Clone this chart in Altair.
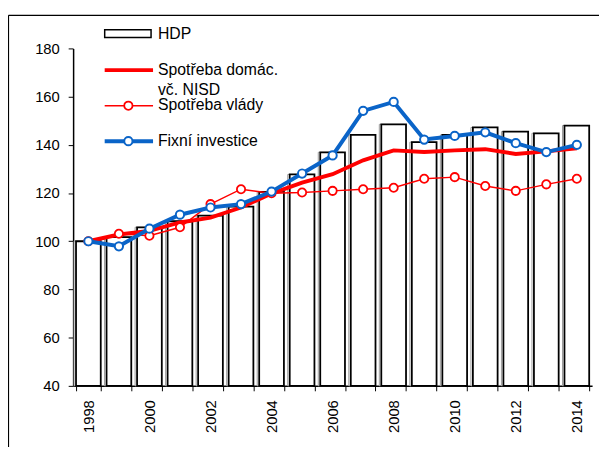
import altair as alt
import pandas as pd

years = list(range(1998, 2015))
hdp = [100, 101.7, 105.8, 108.3, 110.6, 114.4, 120.5, 127.7, 136.9, 144.1, 148.5, 141.1, 144.1, 147.2, 145.5, 144.8, 148.0]
domac = [100, 102.8, 104.3, 107.8, 109.8, 114.0, 119.8, 124.3, 127.8, 133.6, 137.7, 137.0, 137.7, 138.2, 136.2, 137.3, 138.6]
vlady = [100, 103.1, 102.3, 105.8, 115.4, 121.6, 119.9, 120.2, 120.9, 121.6, 122.2, 125.9, 126.6, 122.9, 120.9, 123.6, 125.9]
invest = [100, 97.9, 105.2, 111.0, 114.0, 115.4, 120.6, 128.1, 135.6, 154.1, 157.8, 142.2, 143.7, 145.2, 140.7, 137.0, 140.0]

series_names = ["HDP", "Spotřeba domác.", "vč. NISD", "Spotřeba vlády", "Fixní investice"]
y_ticks = [40, 60, 80, 100, 120, 140, 160, 180]

RED = "#FF0000"
BLUE = "#0A64C8"
FONT = "Liberation Sans"

df = pd.DataFrame({"year": years, "hdp": hdp, "domac": domac, "vlady": vlady, "invest": invest})

x = alt.X(
    "year:O",
    scale=alt.Scale(paddingInner=0.19, paddingOuter=0.095),
    axis=alt.Axis(
        title=None,
        labelAngle=-90,
        labelExpr="datum.value % 2 == 0 ? datum.label : ''",
        tickBand="extent",
        tickSize=5,
        labelPadding=9,
        labelFontSize=15,
        labelFont=FONT,
        labelColor="black",
        domainColor="black",
        tickColor="black",
        domainWidth=1.5,
        labelOverlap=False,
    ),
)
yscale = alt.Scale(domain=[40, 180], nice=False, zero=False)
yaxis = alt.Axis(
    title=None,
    values=y_ticks,
    grid=False,
    tickSize=5,
    labelPadding=9,
    labelFontSize=15,
    labelFont=FONT,
    labelColor="black",
    domainColor="black",
    tickColor="black",
    domainWidth=1.5,
)

base = alt.Chart(df)

bars_shadow = base.mark_bar(fill="white", stroke="#9a9a9a", strokeWidth=1, xOffset=-2).encode(
    x=x, y=alt.Y("hdp:Q", scale=yscale, axis=yaxis), y2=alt.datum(40)
)
bars = base.mark_bar(fill="white", stroke="black", strokeWidth=1.8).encode(
    x=x, y=alt.Y("hdp:Q", scale=yscale, axis=yaxis), y2=alt.datum(40)
)
line_domac = base.mark_line(color=RED, strokeWidth=4).encode(x=x, y=alt.Y("domac:Q", scale=yscale))
line_vlady = base.mark_line(color=RED, strokeWidth=1.5).encode(x=x, y=alt.Y("vlady:Q", scale=yscale))
pts_vlady = base.mark_point(shape="circle", filled=True, fill="white", stroke=RED, strokeWidth=1.8, size=70, opacity=1).encode(
    x=x, y=alt.Y("vlady:Q", scale=yscale)
)
line_inv = base.mark_line(color=BLUE, strokeWidth=4).encode(x=x, y=alt.Y("invest:Q", scale=yscale))
pts_inv = base.mark_point(shape="circle", filled=True, fill="white", stroke=BLUE, strokeWidth=2, size=70, opacity=1).encode(
    x=x, y=alt.Y("invest:Q", scale=yscale)
)

one = alt.Chart(pd.DataFrame({"a": [0]}))

# frame around the whole figure
frame = [
    one.mark_rule(color="black", strokeWidth=1.2).encode(x=alt.value(-65.5), y=alt.value(-33.5), y2=alt.value(420)),
    one.mark_rule(color="black", strokeWidth=1.2).encode(x=alt.value(-65.5), x2=alt.value(600), y=alt.value(-33.5)),
]

# legend
LX1, LX2, LXC, TX = 32, 81, 56, 86
legend = [
    one.mark_rect(fill="white", stroke="black", strokeWidth=1.5).encode(
        x=alt.value(LX1), x2=alt.value(79), y=alt.value(-19), y2=alt.value(-11)
    ),
    one.mark_rule(color=RED, strokeWidth=4).encode(x=alt.value(LX1), x2=alt.value(LX2), y=alt.value(22)),
    one.mark_rule(color=RED, strokeWidth=1.5).encode(x=alt.value(LX1), x2=alt.value(LX2), y=alt.value(58)),
    one.mark_point(shape="circle", filled=True, fill="white", stroke=RED, strokeWidth=1.8, size=70, opacity=1).encode(
        x=alt.value(LXC), y=alt.value(58)
    ),
    one.mark_rule(color=BLUE, strokeWidth=4).encode(x=alt.value(LX1), x2=alt.value(LX2), y=alt.value(94)),
    one.mark_point(shape="circle", filled=True, fill="white", stroke=BLUE, strokeWidth=2, size=70, opacity=1).encode(
        x=alt.value(LXC), y=alt.value(94)
    ),
]
label_y = [-15, 22, 42, 57, 94]
for name, yy in zip(series_names, label_y):
    legend.append(
        one.mark_text(align="left", baseline="middle", fontSize=16, font=FONT, color="black").encode(
            x=alt.value(TX), y=alt.value(yy), text=alt.value(name)
        )
    )

chart = alt.layer(
    bars_shadow, bars, line_domac, line_vlady, pts_vlady, line_inv, pts_inv, *frame, *legend
).properties(
    width=526,
    height=342,
    autosize=alt.AutoSizeParams(type="none"),
    padding={"left": 66, "top": 38, "right": 7, "bottom": 59},
    background="white",
).configure_view(stroke=None)

chart.save("out.html", embed_options={"renderer": "svg", "actions": False})
